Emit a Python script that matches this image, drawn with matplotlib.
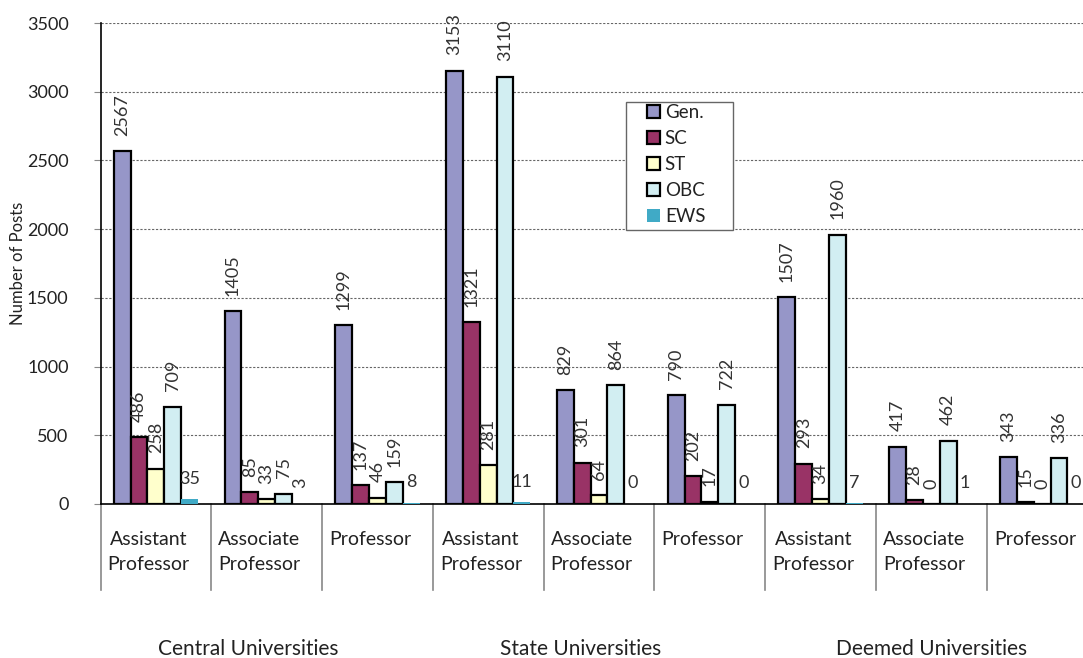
import numpy as np
import matplotlib.pyplot as plt
from matplotlib.patches import Rectangle

plt.rcParams['font.family'] = ['Lato', 'DejaVu Sans']

# data
groups = ["Central Universities", "State Universities", "Deemed Universities"]
posts = ["Assistant\nProfessor", "Associate\nProfessor", "Professor"]
series = ["Gen.", "SC", "ST", "OBC", "EWS"]

gen = [2567, 1405, 1299, 3153, 829, 790, 1507, 417, 343]
sc = [486, 85, 137, 1321, 301, 202, 293, 28, 15]
st = [258, 33, 46, 281, 64, 17, 34, 0, 0]
obc = [709, 75, 159, 3110, 864, 722, 1960, 462, 336]
ews = [35, 3, 8, 11, 0, 0, 7, 1, 0]

colors = ["#9696C8", "#993366", "#FFFFCC", "#D2EEF2", "#40AAC6"]

fig = plt.figure(figsize=(10.83, 6.58), dpi=100)
# axes run a bit past the right edge, as in the original (last group is cut)
ax = fig.add_axes([100.5 / 1083, 154 / 658, 997 / 1083, 481 / 658])
AW, AH = 997, 481  # axes size in px, used for placing things below the axis

n = len(gen)
x = np.arange(n)
w = 0.152
start = (1 - 5 * w) / 2 + w / 2

for k, (vals, name, c) in enumerate(zip([gen, sc, st, obc, ews], series, colors)):
    pos = x + start + k * w
    if name == "EWS":
        ax.bar(pos, vals, w, color=c, label=name, linewidth=0, zorder=3)
    else:
        ax.bar(pos, vals, w, color=c, label=name, edgecolor="black",
               linewidth=1.6, zorder=3)
    for i, (p, v) in enumerate(zip(pos, vals)):
        # EWS labels were drawn flat, apart from the "3"
        if name == "EWS" and i != 1:
            ax.annotate(str(v), (p, v), xytext=(0, 9), textcoords="offset points",
                        ha="center", va="bottom", fontsize=13, color="#333333",
                        zorder=4)
        else:
            ax.annotate(str(v), (p, v), xytext=(0, 11), textcoords="offset points",
                        ha="center", va="bottom", rotation=90, fontsize=13,
                        color="#333333", zorder=4)

ax.set_xlim(0, n)
ax.set_ylim(0, 3500)
ax.set_yticks(np.arange(0, 3501, 500))
ax.yaxis.grid(True, linestyle=(0, (2, 1.5)), color="#666666", linewidth=0.8, zorder=0)
ax.set_xticks([])
ax.tick_params(axis='y', length=5, color="#888888", labelsize=13, pad=18,
               labelcolor="#222222")
for s in ["top", "right"]:
    ax.spines[s].set_visible(False)
ax.spines["left"].set_linewidth(1.2)
ax.spines["bottom"].set_linewidth(1.2)

ax.set_ylabel("Number of Posts", fontsize=12, color="#222222", labelpad=0)
ax.yaxis.set_label_coords(-74 / AW, 0.5)

# group separators and sub-category labels below the axis
trans = ax.get_xaxis_transform()
for i in range(n + 1):
    ax.plot([i, i], [0, -86 / AH], transform=trans, color="#888888",
            linewidth=1.2, clip_on=False)
for i in range(n):
    ax.text(i + 0.435, -27 / AH, posts[i % 3], transform=trans, ha="center",
            va="top", fontsize=14, color="#222222", linespacing=1.6)

group_x = [1.33, 4.33, 7.5]
for gx, g in zip(group_x, groups):
    ax.text(gx, -145 / AH, g, transform=trans, ha="center", va="center",
            fontsize=15, color="#222222")

# legend: Excel draws a wider box than the entries need, so frame drawn separately
leg = ax.legend(loc="upper left", bbox_to_anchor=((647 - 100.5) / AW, (504 - 104) / AH),
                fontsize=13.5, frameon=False, handlelength=0.7, handleheight=0.7,
                handletextpad=0.25, labelspacing=0.48, borderpad=0, borderaxespad=0)
for t in leg.get_texts():
    t.set_color("#222222")
ax.add_patch(Rectangle(((626 - 100.5) / AW, (504 - 230) / AH), 107 / AW, 128 / AH,
                       transform=ax.transAxes, fill=True, facecolor="white",
                       edgecolor="#666666", linewidth=1.0, zorder=5))
leg.set_zorder(6)

fig.savefig("out.png", dpi=100)
